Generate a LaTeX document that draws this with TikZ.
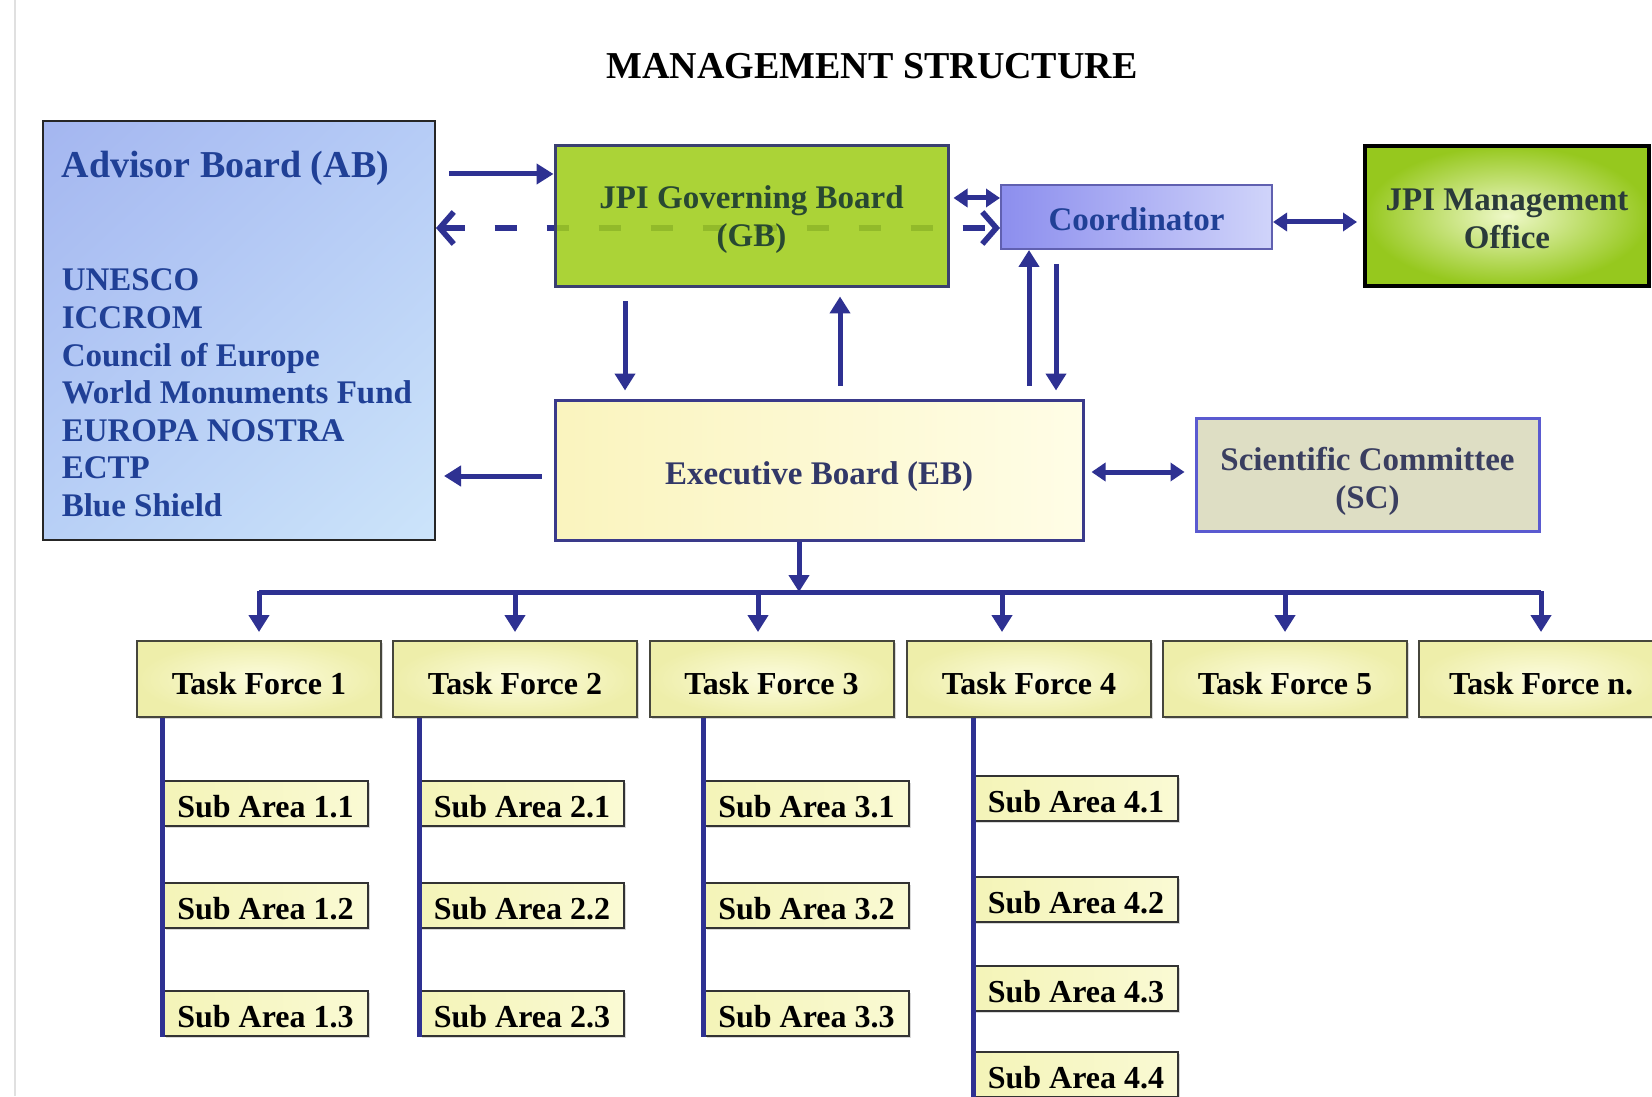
\documentclass[tikz,border=0pt]{standalone}
\usepackage{fontspec}
\setmainfont{Liberation Serif}
\usetikzlibrary{arrows.meta,backgrounds,shadows,shadings}
\definecolor{arrblue}{RGB}{46,49,146}
\definecolor{abtext}{RGB}{32,64,150}
\definecolor{gbfill}{RGB}{160,205,28}
\definecolor{gbtext}{RGB}{40,72,50}
\definecolor{ebtext}{RGB}{50,56,104}
\definecolor{sctext}{RGB}{58,62,96}
\definecolor{scfill}{RGB}{222,222,196}
\definecolor{tfline}{RGB}{70,70,60}

\begin{document}
\begin{tikzpicture}[x=0.5pt, y=-0.5pt, thick,
  box/.style = {draw, line width=1.5pt, align=center, inner sep=2pt, text depth=0pt, font=\fontsize{16.5}{19}\selectfont\bfseries},
  tf/.style = {draw=tfline, line width=1pt, minimum width=122pt, minimum height=38pt, text height=15.4pt, text depth=0pt, inner color={rgb,255:red,252;green,252;blue,222}, outer color={rgb,255:red,238;green,238;blue,170}, font=\fontsize{16}{19}\selectfont\bfseries, drop shadow={shadow xshift=1pt, shadow yshift=-1pt, opacity=0.3}},
  sub/.style = {draw=black!80, line width=1pt, minimum width=102pt, minimum height=22.5pt, text height=14.4pt, text depth=0pt, left color={rgb,255:red,244;green,244;blue,184}, right color={rgb,255:red,250;green,250;blue,212}, font=\fontsize{16}{19}\selectfont\bfseries, drop shadow={shadow xshift=1pt, shadow yshift=-1pt, opacity=0.3}},
  arr/.style = {arrblue, line width=2.5pt, -{Triangle[length=8.5pt,width=10pt]}},
  arr2/.style = {arrblue, line width=2.5pt, {Triangle[length=7pt,width=9pt]}-{Triangle[length=7pt,width=9pt]}},
  dasharr/.style = {arrblue, line width=2.8pt, dash pattern=on 11pt off 15pt, {Straight Barb[length=7pt,width=16pt]}-{Straight Barb[length=7pt,width=16pt]}},
  tree/.style = {arrblue, line width=2.5pt}]
  \useasboundingbox (0,0) rectangle (1652,1096);
  \draw[black!12, line width=1pt] (15,0) -- (15,1096);

  \node[font=\fontsize{19}{22}\selectfont\bfseries] (title) at (872,66) {MANAGEMENT STRUCTURE};

  % boards
  \node[box, draw=black!85, line width=1pt, minimum width=196pt, minimum height=209.5pt, upper left={rgb,255:red,164;green,182;blue,240}, upper right={rgb,255:red,182;green,204;blue,246}, lower left={rgb,255:red,184;green,208;blue,246}, lower right={rgb,255:red,204;green,228;blue,250}] (ab) at (239,330.5) {};
  \node[anchor=west, inner sep=0, text=abtext, font=\fontsize{19}{22}\selectfont\bfseries] (abhead) at (61,168) {Advisor Board (AB)};
  \node[anchor=west, inner sep=0, align=left, text=abtext, font=\fontsize{16.5}{18.8}\selectfont\bfseries] (ablist) at (61,393) {UNESCO\\ICCROM\\Council of Europe\\World Monuments Fund\\EUROPA NOSTRA\\ECTP\\Blue Shield};
  \node[box, draw={rgb,255:red,58;green,63;blue,112}, fill=gbfill, fill opacity=0.88, text opacity=1, draw opacity=1, text=gbtext, text height=30.5pt, minimum width=196.5pt, minimum height=70.5pt] (gb) at (751.5,216.5) {JPI Governing Board\\(GB)};
  \node[box, draw={rgb,255:red,96;green,96;blue,176}, line width=1pt, left color={rgb,255:red,140;green,142;blue,238}, right color={rgb,255:red,208;green,212;blue,250}, text=abtext, text height=13.4pt, minimum width=135.5pt, minimum height=32pt] (coord) at (1136.5,217) {Coordinator};
  \node[box, draw=black, line width=2pt, inner color={rgb,255:red,238;green,248;blue,200}, outer color={rgb,255:red,150;green,200;blue,30}, text={rgb,255:red,42;green,58;blue,58}, text height=32.6pt, minimum width=142pt, minimum height=70pt] (mgmt) at (1507,216) {JPI Management\\Office};
  \node[box, draw={rgb,255:red,58;green,58;blue,138}, left color={rgb,255:red,250;green,244;blue,190}, right color={rgb,255:red,255;green,253;blue,230}, text=ebtext, text height=14.2pt, minimum width=264pt, minimum height=70pt] (eb) at (819,470) {Executive Board (EB)};
  \node[box, draw={rgb,255:red,90;green,90;blue,208}, fill=scfill, text=sctext, text height=34.2pt, minimum width=171.5pt, minimum height=56.5pt] (sc) at (1367.5,474.5) {Scientific Committee\\(SC)};

  % task forces
  \node[tf] (tf1) at (259,679) {Task Force 1};
  \node[tf] (tf2) at (515,679) {Task Force 2};
  \node[tf] (tf3) at (771.5,679) {Task Force 3};
  \node[tf] (tf4) at (1029,679) {Task Force 4};
  \node[tf] (tf5) at (1285,679) {Task Force 5};
  \node[tf] (tfn) at (1541,679) {Task Force n.};

  % sub areas
  \node[sub] (s11) at (265.5,803.5) {Sub Area 1.1};
  \node[sub] (s12) at (265.5,905.5) {Sub Area 1.2};
  \node[sub] (s13) at (265.5,1013) {Sub Area 1.3};
  \node[sub] (s21) at (522,803.5) {Sub Area 2.1};
  \node[sub] (s22) at (522,905.5) {Sub Area 2.2};
  \node[sub] (s23) at (522,1013) {Sub Area 2.3};
  \node[sub] (s31) at (806.5,803.5) {Sub Area 3.1};
  \node[sub] (s32) at (806.5,905.5) {Sub Area 3.2};
  \node[sub] (s33) at (806.5,1013) {Sub Area 3.3};
  \node[sub] (s41) at (1076,798) {Sub Area 4.1};
  \node[sub] (s42) at (1076,899) {Sub Area 4.2};
  \node[sub] (s43) at (1076,988) {Sub Area 4.3};
  \node[sub] (s44) at (1076,1074) {Sub Area 4.4};

  % connectors
  \begin{scope}[on background layer]
    \fill[white] (0,0) rectangle (1652,1096);
    \draw[dasharr] (ab.east |- 0,228) -- (coord.west |- 0,228);
  \end{scope}
  \draw[arr, shorten <=6.5pt] (ab.east |- 0,174) -- (gb.west |- 0,174);
  \draw[arr2, shorten <=2pt] (gb.east |- 0,198) -- (coord.west |- 0,198);
  \draw[arr2, shorten >=3pt] (coord.east |- 0,222) -- (mgmt.west |- 0,222);
  \draw[arr, shorten <=6.5pt, shorten >=4pt] (gb.south -| 625,0) -- (eb.north -| 625,0);
  \draw[arr, shorten <=6.5pt, shorten >=4pt] (eb.north -| 840,0) -- (gb.south -| 840,0);
  \draw[arr, shorten <=6.5pt] (eb.north -| 1029,0) -- (coord.south -| 1029,0);
  \draw[arr, shorten <=7pt, shorten >=4pt] (coord.south -| 1056,0) -- (eb.north -| 1056,0);
  \draw[arr, shorten <=6pt, shorten >=4pt] (eb.west |- 0,476) -- (ab.east |- 0,476);
  \draw[arr2, shorten <=3.5pt, shorten >=5pt] (eb.east |- 0,472) -- (sc.west |- 0,472);

  \coordinate (bus) at (799,592);
  \draw[arr] (eb.south -| bus) -- (bus);
  \draw[tree] (tf1 |- bus) -- (tfn |- bus);
  \foreach \t/\dx in {tf1/0, tf2/0, tf3/-6.75, tf4/-13.5, tf5/0, tfn/0}
    \draw[arr, shorten >=4pt] ([xshift=\dx pt, yshift=24.5pt]\t.north) -- ([xshift=\dx pt]\t.north);

  \draw[tree] (s11.west |- tf1.south) -- (s13.south west);
  \draw[tree] (s21.west |- tf2.south) -- (s23.south west);
  \draw[tree] (s31.west |- tf3.south) -- (s33.south west);
  \draw[tree] (s41.west |- tf4.south) -- (s44.south west);
\end{tikzpicture}
\end{document}
